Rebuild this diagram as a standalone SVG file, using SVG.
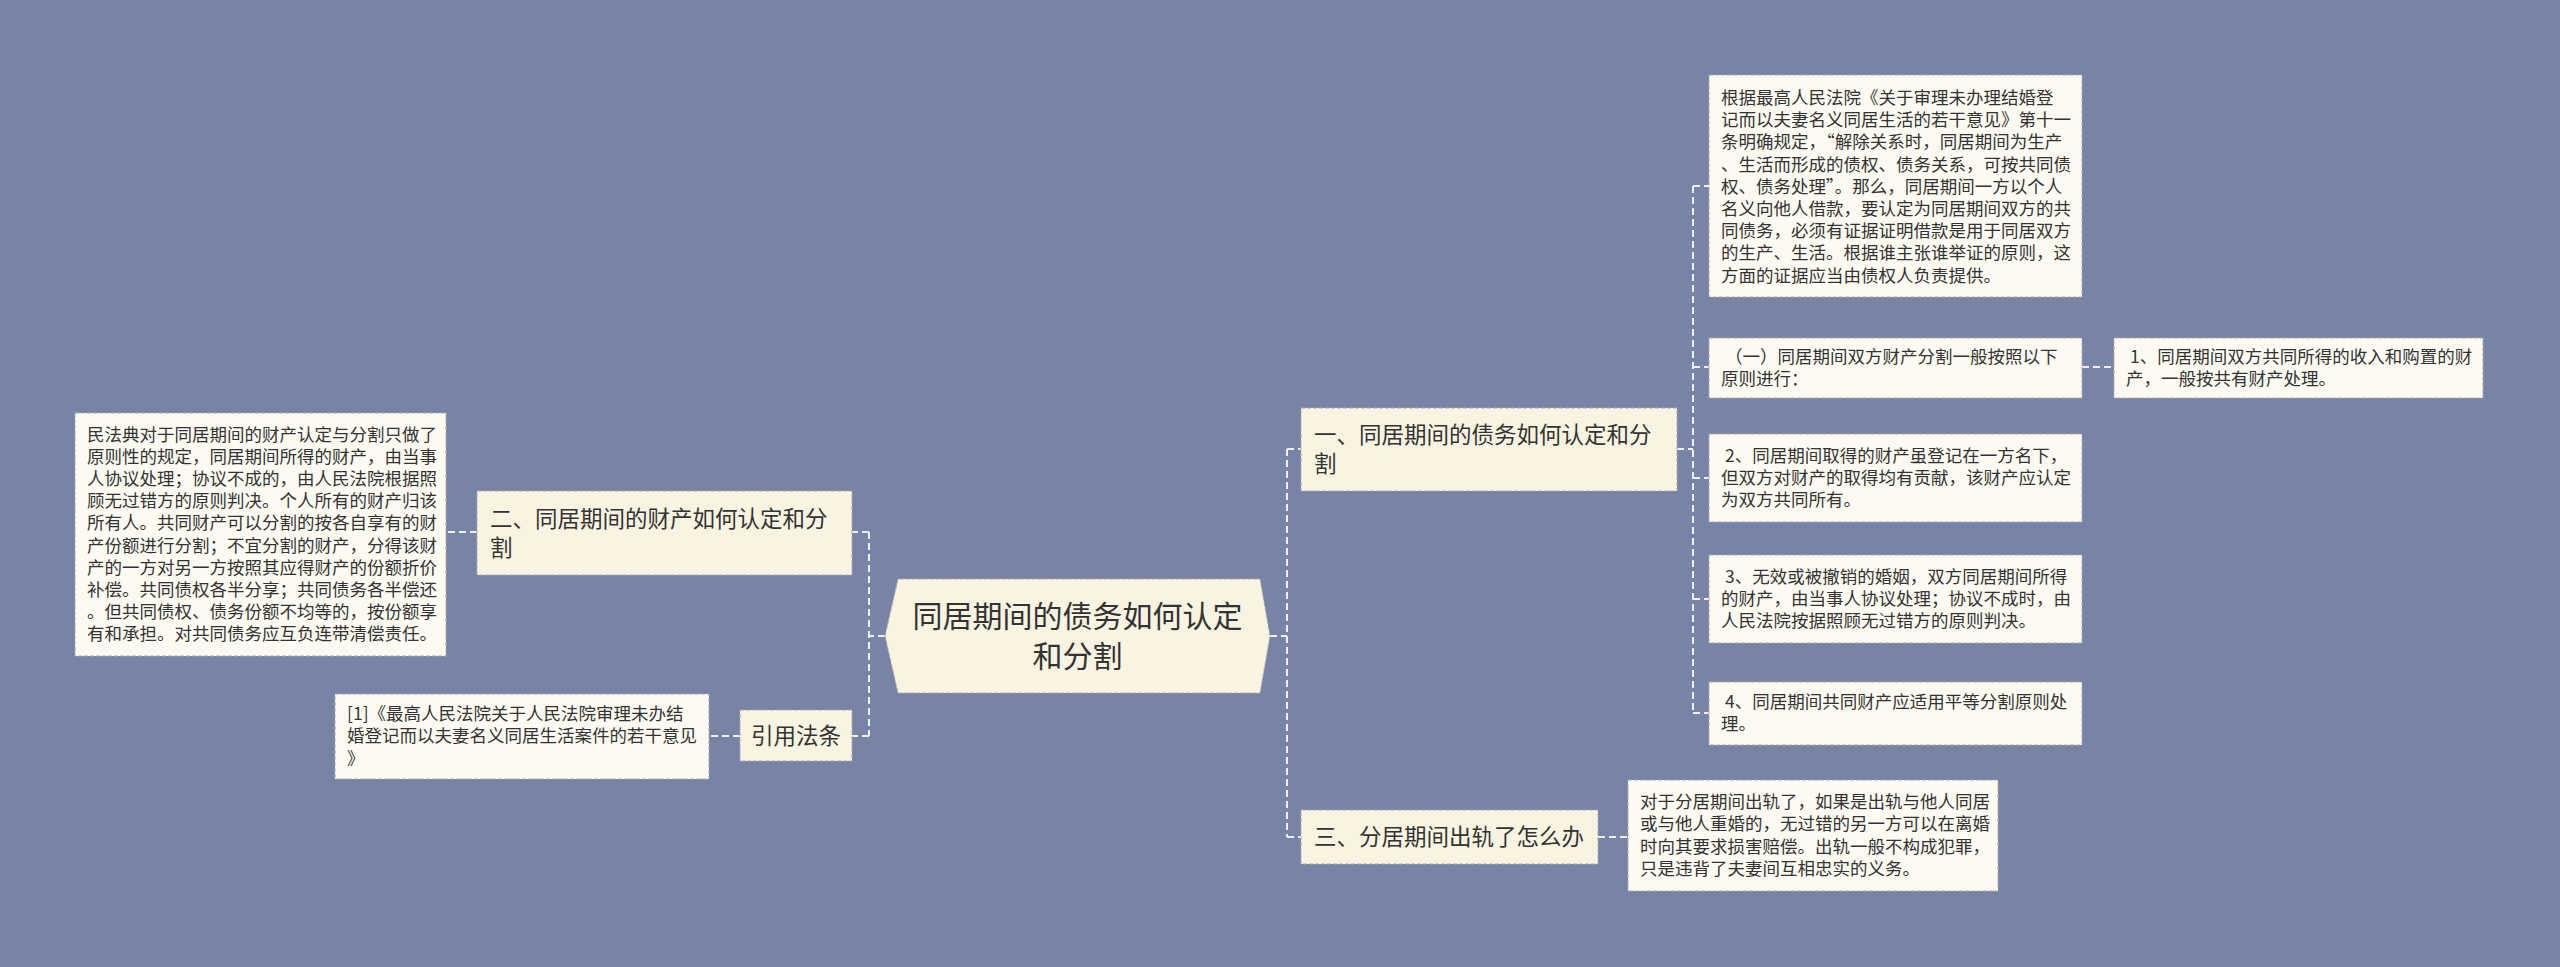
<svg xmlns="http://www.w3.org/2000/svg" width="2560" height="967" viewBox="0 0 2560 967">
<style>
.bg{fill:#7784a5}
.node{fill:#f8f4e1;stroke:#a9a9a9;stroke-width:1;stroke-dasharray:4 2}
.box{fill:#fdfbf1;stroke:#a9a9a9;stroke-width:1;stroke-dasharray:4 2}
.conn{fill:none;stroke:#eef0f6;stroke-width:2;stroke-dasharray:7 4}
text{font-family:"Noto Sans CJK SC","Noto Sans",sans-serif;fill:#333}
.t1{font-size:17.5px}
.t2{font-size:22.5px}
.t0{font-size:30px}
</style>
<rect class="bg" x="0" y="0" width="2560" height="967"/>
<g id="connectors">
<path class="conn" d="M885 636H869M869 532V736M869 532H852M869 736H852"/>
<path class="conn" d="M477 532H446M740 736H709"/>
<path class="conn" d="M1270 636H1287M1287 449V837M1287 449H1301M1287 837H1301"/>
<path class="conn" d="M1677 449H1693M1693 186V713M1693 186H1709M1693 367H1709M1693 478H1709M1693 599H1709M1693 713H1709"/>
<path class="conn" d="M2082 367H2114M1598 837H1628"/>
</g>
<g id="center">
<polygon class="node" points="885,636 898,579 1260,579 1270,636 1260,693 898,693"/>
<text class="t0" x="1077.5" y="627" text-anchor="middle">同居期间的债务如何认定</text>
<text class="t0" x="1077.5" y="667" text-anchor="middle">和分割</text>
</g>
<g id="n1">
<rect class="node" x="1301" y="408" width="376" height="83"/>
<text class="t2" x="1314" y="443">一、同居期间的债务如何认定和分</text>
<text class="t2" x="1314" y="472">割</text>
</g>
<g id="n1a">
<rect class="box" x="1709" y="75" width="373" height="222"/>
<text class="t1" x="1721" y="104">根据最高人民法院《关于审理未办理结婚登</text>
<text class="t1" x="1721" y="126.2">记而以夫妻名义同居生活的若干意见》第十一</text>
<text class="t1" x="1721" y="148.4">条明确规定，“解除关系时，同居期间为生产</text>
<text class="t1" x="1721" y="170.6">、生活而形成的债权、债务关系，可按共同债</text>
<text class="t1" x="1721" y="192.8">权、债务处理”。那么，同居期间一方以个人</text>
<text class="t1" x="1721" y="215">名义向他人借款，要认定为同居期间双方的共</text>
<text class="t1" x="1721" y="237.2">同债务，必须有证据证明借款是用于同居双方</text>
<text class="t1" x="1721" y="259.4">的生产、生活。根据谁主张谁举证的原则，这</text>
<text class="t1" x="1721" y="281.6">方面的证据应当由债权人负责提供。</text>
</g>
<g id="n1b">
<rect class="box" x="1709" y="338" width="373" height="60"/>
<text class="t1" x="1721" y="363" xml:space="preserve"> （一）同居期间双方财产分割一般按照以下</text>
<text class="t1" x="1721" y="385">原则进行：</text>
</g>
<g id="n1b1">
<rect class="box" x="2114" y="338" width="369" height="60"/>
<text class="t1" x="2126" y="363" xml:space="preserve"> 1、同居期间双方共同所得的收入和购置的财</text>
<text class="t1" x="2126" y="385">产，一般按共有财产处理。</text>
</g>
<g id="n1c">
<rect class="box" x="1709" y="434" width="373" height="88"/>
<text class="t1" x="1721" y="462" xml:space="preserve"> 2、同居期间取得的财产虽登记在一方名下，</text>
<text class="t1" x="1721" y="484">但双方对财产的取得均有贡献，该财产应认定</text>
<text class="t1" x="1721" y="506">为双方共同所有。</text>
</g>
<g id="n1d">
<rect class="box" x="1709" y="555" width="373" height="88"/>
<text class="t1" x="1721" y="583" xml:space="preserve"> 3、无效或被撤销的婚姻，双方同居期间所得</text>
<text class="t1" x="1721" y="605">的财产，由当事人协议处理；协议不成时，由</text>
<text class="t1" x="1721" y="627">人民法院按据照顾无过错方的原则判决。</text>
</g>
<g id="n1e">
<rect class="box" x="1709" y="682" width="373" height="63"/>
<text class="t1" x="1721" y="708" xml:space="preserve"> 4、同居期间共同财产应适用平等分割原则处</text>
<text class="t1" x="1721" y="730">理。</text>
</g>
<g id="n3">
<rect class="node" x="1301" y="810" width="297" height="54"/>
<text class="t2" x="1314" y="845">三、分居期间出轨了怎么办</text>
</g>
<g id="n3a">
<rect class="box" x="1628" y="780" width="370" height="111"/>
<text class="t1" x="1640" y="808">对于分居期间出轨了，如果是出轨与他人同居</text>
<text class="t1" x="1640" y="830">或与他人重婚的，无过错的另一方可以在离婚</text>
<text class="t1" x="1640" y="853">时向其要求损害赔偿。出轨一般不构成犯罪，</text>
<text class="t1" x="1640" y="875">只是违背了夫妻间互相忠实的义务。</text>
</g>
<g id="n2">
<rect class="node" x="477" y="491" width="375" height="84"/>
<text class="t2" x="490" y="527">二、同居期间的财产如何认定和分</text>
<text class="t2" x="490" y="556">割</text>
</g>
<g id="n2a">
<rect class="box" x="75" y="413" width="371" height="243"/>
<text class="t1" x="87" y="440.6">民法典对于同居期间的财产认定与分割只做了</text>
<text class="t1" x="87" y="462.8">原则性的规定，同居期间所得的财产，由当事</text>
<text class="t1" x="87" y="485">人协议处理；协议不成的，由人民法院根据照</text>
<text class="t1" x="87" y="507.2">顾无过错方的原则判决。个人所有的财产归该</text>
<text class="t1" x="87" y="529.4">所有人。共同财产可以分割的按各自享有的财</text>
<text class="t1" x="87" y="551.6">产份额进行分割；不宜分割的财产，分得该财</text>
<text class="t1" x="87" y="573.8">产的一方对另一方按照其应得财产的份额折价</text>
<text class="t1" x="87" y="596">补偿。共同债权各半分享；共同债务各半偿还</text>
<text class="t1" x="87" y="618.2">。但共同债权、债务份额不均等的，按份额享</text>
<text class="t1" x="87" y="640.4">有和承担。对共同债务应互负连带清偿责任。</text>
</g>
<g id="n4">
<rect class="node" x="740" y="710" width="112" height="51"/>
<text class="t2" x="796" y="744" text-anchor="middle">引用法条</text>
</g>
<g id="n4a">
<rect class="box" x="335" y="694" width="374" height="85"/>
<text class="t1" x="347" y="720">[1]《最高人民法院关于人民法院审理未办结</text>
<text class="t1" x="347" y="742">婚登记而以夫妻名义同居生活案件的若干意见</text>
<text class="t1" x="347" y="765">》</text>
</g>
</svg>
